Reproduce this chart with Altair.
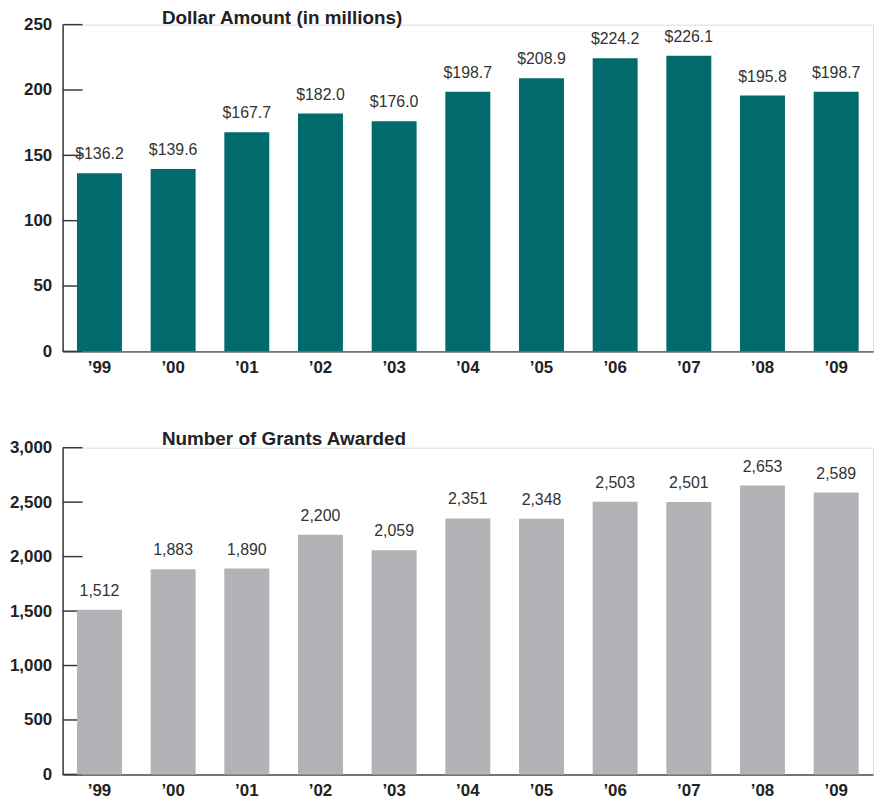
import altair as alt
import pandas as pd

years = ["’99", "’00", "’01", "’02", "’03", "’04", "’05", "’06", "’07", "’08", "’09"]
dollars = [136.2, 139.6, 167.7, 182.0, 176.0, 198.7, 208.9, 224.2, 226.1, 195.8, 198.7]
grants = [1512, 1883, 1890, 2200, 2059, 2351, 2348, 2503, 2501, 2653, 2589]
dollar_ticks = [0, 50, 100, 150, 200, 250]
grant_ticks = [0, 500, 1000, 1500, 2000, 2500, 3000]

FONT = "Liberation Sans"
W, H = 816, 329


def panel(values, ticks, color, title, axis_fmt, text_fmt, title_offset):
    df = pd.DataFrame({"year": years, "value": values})
    ymax = ticks[-1]
    yscale = alt.Scale(domain=[0, ymax], nice=False, zero=True)
    yaxis = alt.Axis(
        title=None, values=ticks, format=axis_fmt, ticks=False, grid=False,
        domainColor="#3a3a3a", domainWidth=1.5, labelPadding=11,
        labelFont=FONT, labelFontSize=17, labelFontWeight="bold",
        labelColor="#222222", minExtent=53, maxExtent=53,
    )
    x = alt.X(
        "year:N",
        sort=years,
        scale=alt.Scale(paddingInner=0.39, paddingOuter=0.195),
        axis=alt.Axis(
            title=None, labelAngle=0, ticks=False, domainColor="#737373",
            domainWidth=2, labelFont=FONT, labelFontSize=17,
            labelFontWeight="bold", labelColor="#222222", labelPadding=8,
        ),
    )
    y = alt.Y("value:Q", scale=yscale, axis=yaxis)
    tick_df = pd.DataFrame({"t": ticks})
    tick_rules = alt.Chart(tick_df).mark_rule(color="#3a3a3a", strokeWidth=1.5).encode(
        y=alt.Y("t:Q", scale=yscale, axis=yaxis),
        x=alt.value(0),
        x2=alt.value(20),
    )
    bars = alt.Chart(df).mark_bar(color=color).encode(x=x, y=y)
    text = alt.Chart(df).mark_text(
        baseline="alphabetic", dy=-14, font=FONT, fontSize=16, color="#333333"
    ).encode(x=x, y=y, text=alt.Text("value:Q", format=text_fmt))
    return alt.layer(tick_rules, bars, text).properties(
        width=W,
        height=H,
        title=alt.TitleParams(
            text=title, anchor="start", frame="group", dx=100, offset=title_offset,
            baseline="alphabetic", font=FONT, fontSize=19, fontWeight="bold",
            color="#222222",
        ),
    )


top = panel(dollars, dollar_ticks, "#006a6c", "Dollar Amount (in millions)", "d", "$.1f", -27)
bottom = panel(grants, grant_ticks, "#b2b3b6", "Number of Grants Awarded", ",d", ",d", -25)

chart = alt.vconcat(top, bottom, spacing=53).properties(
    padding={"top": -3, "left": 0, "right": 0, "bottom": 0}
).configure_view(strokeWidth=0).configure(font=FONT)

chart.save("out.html", embed_options={"renderer": "svg", "actions": False})
